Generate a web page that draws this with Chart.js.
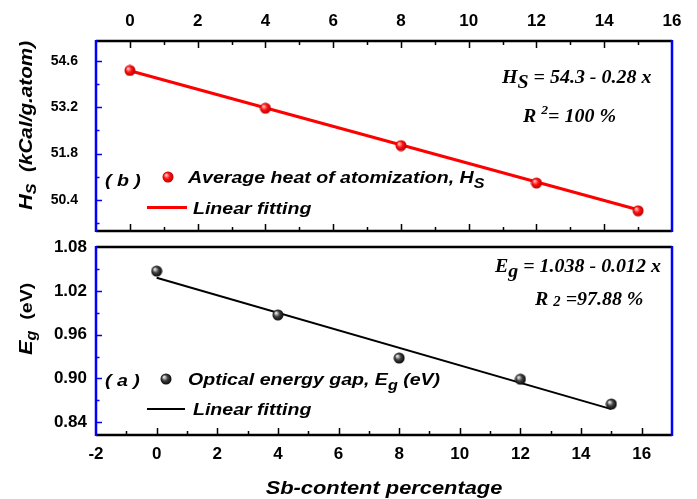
<!DOCTYPE html>
<html>
<head>
<meta charset="utf-8">
<script src="https://cdn.jsdelivr.net/npm/chart.js@4.4.1/dist/chart.umd.min.js"></script>
<style>
    html, body { margin: 0; padding: 0; background: #fff; }
    #wrap { position: relative; width: 697px; height: 499px; }
    #topChart { position: absolute; left: 0; top: 0; }
    #bottomChart { position: absolute; left: 0; top: 240px; }
</style>
</head>
<body>
<div id="wrap">
    <canvas id="topChart" width="697" height="240"></canvas>
    <canvas id="bottomChart" width="697" height="259"></canvas>
</div>
<script>
// Data
const sbContent = [0, 4, 8, 12, 15];
const heatValues = [54.31, 53.17, 52.04, 50.91, 50.07];
const gapValues = [1.047, 0.987, 0.928, 0.899, 0.865];
const fitX = [0, 15];
const heatFit = [54.3, 50.1];
const gapFit = [1.038, 0.858];

// Ticks
const topXTicks = [0, 2, 4, 6, 8, 10, 12, 14, 16];
const topXMinor = [-1, 1, 3, 5, 7, 9, 11, 13, 15];
const bottomXTicks = [-2, 0, 2, 4, 6, 8, 10, 12, 14, 16];
const bottomXMinor = [-1, 1, 3, 5, 7, 9, 11, 13, 15];
const heatTicks = [50.4, 51.8, 53.2, 54.6];
const heatMinor = [49.7, 51.1, 52.5, 53.9];
const gapTicks = [0.84, 0.90, 0.96, 1.02, 1.08];
const gapMinor = [0.87, 0.93, 0.99, 1.05];

const SANS = '"Liberation Sans", Arial, sans-serif';
const SERIF = '"Liberation Serif", "Times New Roman", serif';

const toPoints = (xs, ys) => xs.map((x, i) => ({ x: x, y: ys[i] }));

// Shaded ball markers
function makeBall(light, mid, dark) {
    const c = document.createElement('canvas');
    c.width = 12; c.height = 12;
    const g = c.getContext('2d');
    const grad = g.createRadialGradient(4, 4, 0.5, 6, 6, 6);
    grad.addColorStop(0, light);
    grad.addColorStop(0.45, mid);
    grad.addColorStop(1, dark);
    g.fillStyle = grad;
    g.beginPath();
    g.arc(6, 6, 5.5, 0, Math.PI * 2);
    g.fill();
    return c;
}
const redBall = makeBall('#ffc0c0', '#ff1010', '#b00000');
const blackBall = makeBall('#e8e8e8', '#404040', '#000000');

// Text with sub/superscripts, slightly stretched like the original
function drawRich(ctx, x, y, parts, rot = 0, align = 'left', sx = 1.15) {
    ctx.save();
    ctx.translate(x, y);
    ctx.rotate(rot);
    ctx.scale(sx, 1);
    ctx.textBaseline = 'alphabetic';
    ctx.textAlign = 'left';
    let total = 0;
    parts.forEach(p => { ctx.font = p.font; total += ctx.measureText(p.text).width; });
    let cx = align === 'center' ? -total / 2 : 0;
    parts.forEach(p => {
        ctx.font = p.font;
        ctx.fillStyle = p.color || '#000';
        ctx.fillText(p.text, cx, p.dy || 0);
        cx += ctx.measureText(p.text).width;
    });
    ctx.restore();
}

// Frame, inward ticks and annotations
function makeFrame(cfg) {
    return {
        id: 'frame',
        afterDraw(chart) {
            const { ctx, chartArea: a } = chart;
            const xs = chart.scales.x;
            const ys = chart.scales.y;
            ctx.save();
            ctx.lineWidth = 1.5;
            ctx.strokeStyle = '#000';
            const drawX = (vals, len) => vals.forEach(v => {
                const px = Math.round(xs.getPixelForValue(v)) + 0.5;
                if (px <= a.left + 2 || px >= a.right - 2) return;
                ctx.beginPath();
                if (cfg.ticksTop) { ctx.moveTo(px, a.top); ctx.lineTo(px, a.top + len); }
                if (cfg.ticksBottom) { ctx.moveTo(px, a.bottom); ctx.lineTo(px, a.bottom - len); }
                ctx.stroke();
            });
            drawX(cfg.xMajor, 7);
            drawX(cfg.xMinor, 4);

            ctx.strokeStyle = '#0000ff';
            const drawY = (vals, len) => vals.forEach(v => {
                const py = Math.round(ys.getPixelForValue(v)) + 0.5;
                if (py <= a.top + 2 || py >= a.bottom - 2) return;
                ctx.beginPath();
                ctx.moveTo(a.left, py);
                ctx.lineTo(a.left + len, py);
                ctx.stroke();
            });
            drawY(cfg.yMajor, 6);
            drawY(cfg.yMinor, 3.5);

            ctx.lineWidth = 2.5;
            ctx.strokeStyle = '#000';
            ctx.beginPath();
            ctx.moveTo(a.left, a.top); ctx.lineTo(a.right, a.top);
            ctx.moveTo(a.left, a.bottom); ctx.lineTo(a.right, a.bottom);
            ctx.stroke();
            ctx.strokeStyle = '#0000ff';
            ctx.beginPath();
            ctx.moveTo(a.left, a.top - 1); ctx.lineTo(a.left, a.bottom + 1);
            ctx.moveTo(a.right, a.top - 1); ctx.lineTo(a.right, a.bottom + 1);
            ctx.stroke();
            ctx.restore();

            cfg.drawText(ctx);
        }
    };
}

function xScale(min, max, ticks, pos, height) {
    return {
        type: 'linear',
        position: pos,
        min: min,
        max: max,
        afterBuildTicks: s => { s.ticks = ticks.map(v => ({ value: v })); },
        afterFit: s => { s.height = height; s.paddingLeft = 0; s.paddingRight = 0; },
        grid: { display: false, drawTicks: false },
        border: { display: false },
        ticks: {
            color: '#000',
            font: { family: SANS, size: 17, weight: 'bold' },
            padding: 9,
            autoSkip: false,
            maxRotation: 0,
            callback: v => String(v)
        }
    };
}

function yScale(min, max, ticks, size, pad, digits) {
    return {
        type: 'linear',
        min: min,
        max: max,
        afterBuildTicks: s => { s.ticks = ticks.map(v => ({ value: v })); },
        afterFit: s => { s.width = 96; s.paddingTop = 0; s.paddingBottom = 0; },
        grid: { display: false, drawTicks: false },
        border: { display: false },
        ticks: {
            color: '#000',
            font: { family: SANS, size: size, weight: 'bold' },
            padding: pad,
            autoSkip: false,
            callback: v => Number(v).toFixed(digits)
        }
    };
}

const BI = s => 'italic bold ' + s + 'px ' + SANS;
const TBI = s => 'italic bold ' + s + 'px ' + SERIF;

// Top panel: heat of atomization
const topChart = new Chart(document.getElementById('topChart'), {
    type: 'scatter',
    data: {
        datasets: [
            {
                label: 'Average heat of atomization, HS',
                data: toPoints(sbContent, heatValues),
                pointStyle: redBall,
                pointRadius: 6,
                order: 0
            },
            {
                label: 'Linear fitting',
                type: 'line',
                data: toPoints(fitX, heatFit),
                borderColor: '#ff0000',
                borderWidth: 3,
                pointRadius: 0,
                fill: false,
                order: 1
            }
        ]
    },
    options: {
        responsive: false,
        animation: false,
        devicePixelRatio: 1,
        events: [],
        layout: { padding: { left: 0, right: 25, top: 0, bottom: 9 } },
        plugins: { legend: { display: false }, tooltip: { enabled: false } },
        scales: {
            x: xScale(-1, 16, topXTicks, 'top', 41),
            y: yScale(49.46, 55.2, heatTicks, 14, 18, 1)
        }
    },
    plugins: [makeFrame({
        ticksTop: true, ticksBottom: true,
        xMajor: topXTicks, xMinor: topXMinor,
        yMajor: heatTicks, yMinor: heatMinor,
        drawText: ctx => {
            drawRich(ctx, 32, 210, [
                { text: 'H', font: BI(19) },
                { text: 'S', font: BI(14), dy: 4 },
                { text: '  (kCal/g.atom)', font: BI(18) }
            ], -Math.PI / 2);
            drawRich(ctx, 105, 186, [{ text: '( b )', font: BI(17) }]);
            ctx.drawImage(redBall, 162, 171);
            drawRich(ctx, 188, 183, [
                { text: 'Average heat of atomization, H', font: BI(17) },
                { text: 'S', font: BI(14), dy: 5 }
            ]);
            ctx.save();
            ctx.strokeStyle = '#ff0000';
            ctx.lineWidth = 3;
            ctx.beginPath();
            ctx.moveTo(147, 207.5); ctx.lineTo(187, 207.5);
            ctx.stroke();
            ctx.restore();
            drawRich(ctx, 193, 214, [{ text: 'Linear fitting', font: BI(17) }]);
            drawRich(ctx, 502, 83, [
                { text: 'H', font: TBI(19) },
                { text: 'S', font: TBI(19), dy: 5 },
                { text: ' = 54.3 - 0.28 x', font: TBI(19) }
            ], 0, 'left', 1.05);
            drawRich(ctx, 523, 122, [
                { text: 'R ', font: TBI(19) },
                { text: '2', font: TBI(13), dy: -8 },
                { text: '= 100 %', font: TBI(19) }
            ], 0, 'left', 1.05);
        }
    })]
});

// Bottom panel: optical energy gap
const bottomChart = new Chart(document.getElementById('bottomChart'), {
    type: 'scatter',
    data: {
        datasets: [
            {
                label: 'Optical energy gap, Eg (eV)',
                data: toPoints(sbContent, gapValues),
                pointStyle: blackBall,
                pointRadius: 6,
                order: 0
            },
            {
                label: 'Linear fitting',
                type: 'line',
                data: toPoints(fitX, gapFit),
                borderColor: '#000000',
                borderWidth: 2,
                pointRadius: 0,
                fill: false,
                order: 1
            }
        ]
    },
    options: {
        responsive: false,
        animation: false,
        devicePixelRatio: 1,
        events: [],
        layout: { padding: { left: 0, right: 25, top: 7, bottom: 0 } },
        plugins: { legend: { display: false }, tooltip: { enabled: false } },
        scales: {
            x: xScale(-2, 17, bottomXTicks, 'bottom', 64),
            y: yScale(0.8226, 1.08, gapTicks, 17, 9, 2)
        }
    },
    plugins: [makeFrame({
        ticksTop: false, ticksBottom: true,
        xMajor: bottomXTicks, xMinor: bottomXMinor,
        yMajor: gapTicks, yMinor: gapMinor,
        drawText: ctx => {
            drawRich(ctx, 32, 115, [
                { text: 'E', font: BI(19) },
                { text: 'g', font: BI(14), dy: 4 },
                { text: '  (eV)', font: 'bold 17px ' + SANS }
            ], -Math.PI / 2);
            drawRich(ctx, 105, 146, [{ text: '( a )', font: BI(17) }]);
            ctx.drawImage(blackBall, 160, 133);
            drawRich(ctx, 188, 145, [
                { text: 'Optical energy gap, E', font: BI(17) },
                { text: 'g', font: BI(14), dy: 5 },
                { text: ' (eV)', font: BI(17) }
            ]);
            ctx.save();
            ctx.strokeStyle = '#000';
            ctx.lineWidth = 2;
            ctx.beginPath();
            ctx.moveTo(147, 169); ctx.lineTo(185, 169);
            ctx.stroke();
            ctx.restore();
            drawRich(ctx, 193, 175, [{ text: 'Linear fitting', font: BI(17) }]);
            drawRich(ctx, 495, 32, [
                { text: 'E', font: TBI(19) },
                { text: 'g', font: TBI(19), dy: 5 },
                { text: ' = 1.038 - 0.012 x', font: TBI(19) }
            ], 0, 'left', 1.05);
            drawRich(ctx, 535, 65, [
                { text: 'R ', font: TBI(19) },
                { text: '2', font: TBI(14), dy: 1 },
                { text: ' =97.88 %', font: TBI(19) }
            ], 0, 'left', 1.05);
            drawRich(ctx, 384, 254, [{ text: 'Sb-content percentage', font: BI(19) }], 0, 'center');
        }
    })]
});
</script>
</body>
</html>
